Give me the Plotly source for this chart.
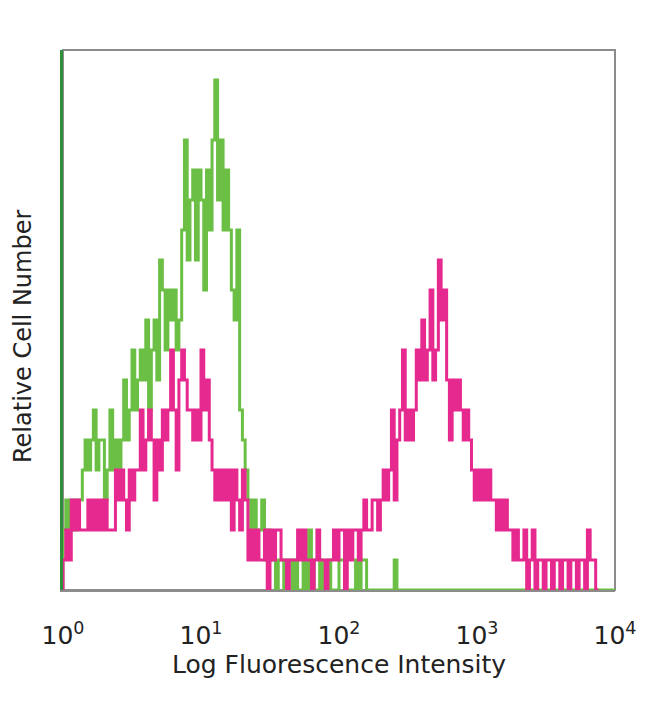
import numpy as np
import plotly.graph_objects as go

# Histogram channels: 200 bins spanning 10^0 .. 10^4 (0.02 decade each)
n_bins = 200
decades_per_bin = 0.02

green_counts = [
    2, 3, 2, 3, 2, 3, 3, 4, 5, 4,
    5, 6, 4, 5, 5, 3, 4, 6, 4, 5,
    4, 5, 7, 5, 6, 8, 6, 7, 8, 7,
    9, 6, 8, 9, 7, 11, 10, 8, 10, 9,
    10, 8, 9, 12, 15, 11, 13, 14, 11, 14,
    13, 10, 14, 12, 15, 17, 13, 15, 12, 14,
    12, 10, 9, 12, 6, 5, 4, 3, 2, 3,
    2, 2, 3, 1, 2, 1, 1, 0, 1, 1,
    0, 1, 1, 0, 1, 0, 0, 1, 0, 2,
    1, 0, 0, 1, 0, 0, 1, 0, 0, 0,
    1, 1, 0, 0, 0, 0, 1, 0, 1, 1,
    0, 0, 0, 0, 0, 0, 0, 0, 0, 0,
    1, 0, 0, 0, 0, 0, 0, 0, 0, 0,
    0, 0, 0, 0, 0, 0, 0, 0, 0, 0,
    0, 0, 0, 0, 0, 0, 0, 0, 0, 0,
    0, 0, 0, 0, 0, 0, 0, 0, 0, 0,
    0, 0, 0, 0, 0, 0, 0, 0, 0, 0,
    0, 0, 0, 0, 0, 0, 0, 0, 0, 0,
    0, 0, 0, 0, 0, 0, 0, 0, 0, 0,
    0, 0, 0, 0, 0, 0, 0, 0, 0, 0,
]

magenta_counts = [
    1, 2, 1, 3, 2, 3, 2, 2, 2, 3,
    2, 3, 2, 3, 2, 3, 2, 2, 2, 4,
    3, 4, 3, 2, 4, 3, 4, 4, 6, 4,
    5, 6, 5, 3, 5, 4, 6, 5, 6, 8,
    6, 4, 7, 8, 7, 6, 6, 5, 6, 5,
    8, 6, 7, 5, 4, 3, 4, 3, 4, 3,
    4, 2, 4, 3, 2, 4, 3, 1, 2, 1,
    2, 1, 1, 2, 0, 2, 1, 2, 2, 1,
    1, 0, 1, 1, 1, 2, 1, 2, 1, 1,
    0, 1, 2, 1, 1, 0, 1, 1, 2, 1,
    2, 2, 0, 2, 1, 2, 2, 1, 2, 3,
    2, 2, 3, 3, 2, 3, 4, 3, 4, 6,
    3, 5, 6, 8, 5, 6, 5, 6, 8, 7,
    9, 7, 8, 10, 7, 8, 11, 9, 10, 7,
    5, 7, 6, 7, 6, 5, 6, 5, 4, 3,
    4, 3, 4, 3, 4, 3, 3, 2, 3, 2,
    3, 2, 2, 1, 2, 1, 1, 2, 0, 1,
    2, 0, 1, 1, 0, 1, 1, 0, 1, 1,
    0, 1, 1, 0, 1, 1, 0, 1, 1, 0,
    2, 1, 1, 0,
]

tick_vals = [1, 10, 100, 1000, 10000]
tick_text = ["10<sup>0</sup>", "10<sup>1</sup>", "10<sup>2</sup>", "10<sup>3</sup>", "10<sup>4</sup>"]
x_title = "Log Fluorescence Intensity"
y_title = "Relative Cell Number"

GREEN = "#6cbf45"
MAGENTA = "#e5298f"
AXIS_GREEN = "#2f8f3a"
FRAME_GRAY = "#8c8c8c"
TEXT = "#222222"


def step_xy(counts):
    n = len(counts)
    edges = 10 ** (np.arange(n + 1) * decades_per_bin)
    xs = [edges[0]] + list(edges[:-1]) + [edges[-1]]
    ys = [0] + list(counts) + [counts[-1]]
    return xs, ys


fig = go.Figure()

gx, gy = step_xy(green_counts)
mx, my = step_xy(magenta_counts)

fig.add_trace(go.Scatter(x=gx, y=gy, mode="lines", line=dict(color=GREEN, width=3, shape="hv"),
                         hoverinfo="skip", showlegend=False))
fig.add_trace(go.Scatter(x=mx, y=my, mode="lines", line=dict(color=MAGENTA, width=3, shape="hv"),
                         hoverinfo="skip", showlegend=False))

fig.add_shape(type="rect", xref="paper", yref="paper", x0=0, x1=1, y0=0, y1=1,
              line=dict(color=FRAME_GRAY, width=2), layer="below")

font_family = "DejaVu Sans"

fig.add_annotation(text=y_title, xref="paper", yref="paper", x=(23 - 63) / 552, y=(590 - 337) / 540,
                   textangle=-90, showarrow=False, xanchor="center", yanchor="middle",
                   font=dict(size=24, family=font_family, color=TEXT))

# the page body adds an 8px margin, so the figure is sized to fit 650x704 from (8, 8)
fig.update_layout(
    width=642, height=696,
    margin=dict(l=55, r=35, t=42, b=114),
    paper_bgcolor="white", plot_bgcolor="white",
    showlegend=False,
    font=dict(family=font_family, color=TEXT),
    xaxis=dict(
        type="log", range=[0, 4], automargin=False,
        tickvals=tick_vals, ticktext=tick_text,
        showgrid=False, zeroline=False, ticks="",
        showline=True, linecolor=FRAME_GRAY, linewidth=2,
        tickfont=dict(size=25, family=font_family, color=TEXT),
        ticklabelstandoff=22,
        title=dict(text=x_title, font=dict(size=25, family=font_family, color=TEXT), standoff=6),
    ),
    yaxis=dict(
        range=[0, 18], automargin=False,
        showticklabels=False, ticks="",
        showgrid=False, zeroline=False,
        showline=True, linecolor=AXIS_GREEN, linewidth=3,
    ),
)

fig.write_html("out.html")
